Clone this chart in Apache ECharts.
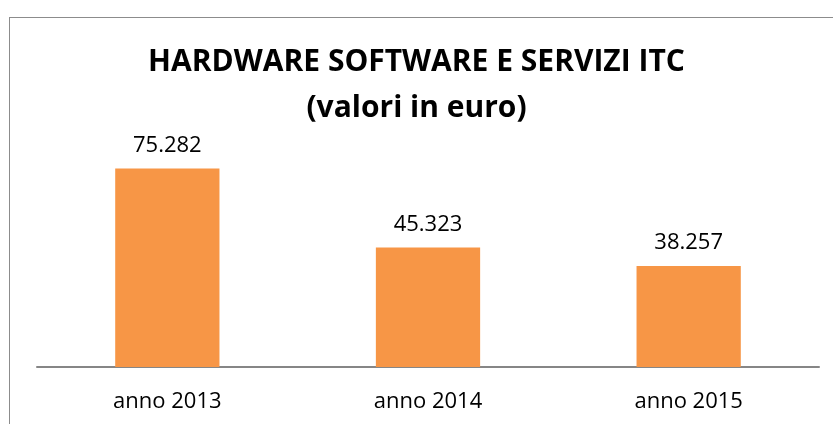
<!DOCTYPE html>
<html>
<head>
<meta charset="utf-8">
<script src="https://cdn.jsdelivr.net/npm/echarts@6/dist/echarts.min.js"></script>
<style>
  html, body { margin: 0; padding: 0; background: #fff; }
  #main { width: 833px; height: 424px; position: absolute; top: 0; left: 0; }
  .frame {
    position: absolute; left: 9px; top: 17px; right: -2px; bottom: -2px;
    border-left: 1px solid #8c8c8c; border-top: 1px solid #8c8c8c;
    pointer-events: none;
  }
</style>
</head>
<body>
<div id="main"></div>
<div class="frame"></div>
<script>
const categories = ["anno 2013", "anno 2014", "anno 2015"];
const values = [75282, 45323, 38257];
const titleText = "HARDWARE SOFTWARE E SERVIZI ITC\n(valori in euro)";

const fontFamily = "Open Sans, Lato, sans-serif";

function fmt(v) {
  return String(v).replace(/\B(?=(\d{3})+(?!\d))/g, ".");
}

const chart = echarts.init(document.getElementById("main"));
const option = {
  animation: false,
  backgroundColor: "#fff",
  title: {
    text: titleText,
    left: "center",
    top: 34,
    textStyle: {
      fontFamily: fontFamily,
      fontSize: 30,
      fontWeight: "bold",
      color: "#000",
      lineHeight: 46
    }
  },
  grid: {
    left: 37,
    right: 14,
    top: 156,
    bottom: 57,
    containLabel: false
  },
  xAxis: {
    type: "category",
    data: categories,
    axisLine: { lineStyle: { color: "#868686", width: 2 } },
    axisTick: { show: false },
    axisLabel: {
      fontFamily: fontFamily,
      fontSize: 22,
      color: "#000",
      margin: 24
    }
  },
  yAxis: {
    type: "value",
    min: 0,
    max: 80000,
    show: false,
    splitLine: { show: false }
  },
  series: [
    {
      type: "bar",
      data: values,
      barWidth: "40%",
      itemStyle: { color: "#F79646" },
      label: {
        show: true,
        position: "top",
        distance: 12,
        fontFamily: fontFamily,
        fontSize: 22,
        color: "#000",
        formatter: p => fmt(p.value)
      }
    }
  ]
};
chart.setOption(option);
</script>
</body>
</html>
